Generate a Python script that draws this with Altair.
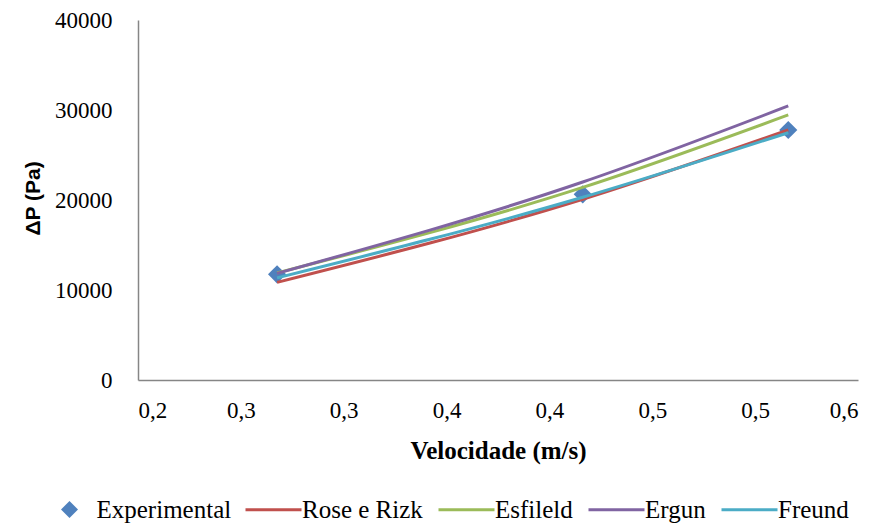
import json
import altair as alt
import pandas as pd

# ---- data ----
velocidade = [0.2676, 0.4162, 0.5161]
experimental = [11744, 20633, 27778]

modelos = ["Rose e Rizk", "Esfileld", "Ergun", "Freund"]
rose_rizk = [10850, 20080, 27780]
esfileld = [11900, 21400, 29450]
ergun = [11850, 22000, 30450]
freund = [11350, 20300, 27480]

cores_modelos = ["#C0504D", "#9BBB59", "#8064A2", "#4BACC6"]
cor_exp = "#4F81BD"

x_tick_values = [0.2, 0.25, 0.3, 0.35, 0.4, 0.45, 0.5, 0.55]
x_tick_labels = ["0,2", "0,3", "0,3", "0,4", "0,4", "0,5", "0,5", "0,6"]
y_tick_values = [0, 10000, 20000, 30000, 40000]

# ---- tables ----
df_exp = pd.DataFrame({"v": velocidade, "dp": experimental, "serie": "Experimental"})
rows = []
for nome, vals in zip(modelos, [rose_rizk, esfileld, ergun, freund]):
    for v, d in zip(velocidade, vals):
        rows.append({"v": v, "dp": d, "modelo": nome})
df_mod = pd.DataFrame(rows)

SERIF = "Liberation Serif"
SANS = "Liberation Sans"
label_expr = f"{json.dumps(x_tick_labels)}[indexof({json.dumps(x_tick_values)}, datum.value)]"

x_enc = alt.X(
    "v:Q",
    scale=alt.Scale(domain=[0.2, 0.55], nice=False, zero=False),
    axis=alt.Axis(
        values=x_tick_values,
        labelExpr=label_expr,
        title="Velocidade (m/s)",
        titleFont=SERIF,
        titleFontSize=25,
        titleFontWeight="bold",
        titleColor="black",
        titleX=360,
        titleY=78,
        titleBaseline="alphabetic",
        labelFont=SERIF,
        labelFontSize=23,
        labelColor="black",
        labelPadding=19,
        ticks=False,
        grid=False,
        domainColor="#868686",
        domainWidth=1.5,
        labelOverlap=False,
    ),
)
y_enc = alt.Y(
    "dp:Q",
    scale=alt.Scale(domain=[0, 40000], nice=False),
    axis=alt.Axis(
        values=y_tick_values,
        format="d",
        title="ΔP (Pa)",
        titleFont=SANS,
        titleFontSize=21,
        titleFontWeight="bold",
        titleColor="black",
        titleAngle=270,
        titleX=-105,
        titleY=178,
        titleAlign="center",
        titleBaseline="middle",
        labelFont=SERIF,
        labelFontSize=23,
        labelColor="black",
        labelPadding=26,
        ticks=False,
        grid=False,
        domainColor="#868686",
        domainWidth=1.5,
        labelOverlap=False,
    ),
)

pontos = alt.Chart(df_exp).mark_point(
    shape="diamond", filled=True, size=330, opacity=1
).encode(
    x=x_enc,
    y=y_enc,
    fill=alt.Fill(
        "serie:N",
        scale=alt.Scale(domain=["Experimental"], range=[cor_exp]),
        legend=alt.Legend(
            title=None,
            orient="none",
            legendX=-81,
            legendY=477,
            direction="horizontal",
            columns=1,
            padding=0,
            symbolType="diamond",
            symbolSize=290,
            symbolOpacity=1,
            labelOffset=14.5,
            labelFont=SERIF,
            labelFontSize=25,
            labelColor="black",
        ),
    ),
)

linhas = alt.Chart(df_mod).mark_line(
    interpolate="monotone", strokeWidth=3
).encode(
    x=x_enc,
    y=y_enc,
    stroke=alt.Stroke(
        "modelo:N",
        sort=modelos,
        scale=alt.Scale(domain=modelos, range=cores_modelos),
        legend=alt.Legend(
            title=None,
            orient="none",
            legendX=105,
            legendY=477,
            direction="horizontal",
            columns=4,
            columnPadding=9,
            padding=0,
            symbolType="M-1,0L4.6,0",
            symbolSize=400,
            symbolStrokeWidth=3,
            labelOffset=34,
            labelFont=SERIF,
            labelFontSize=25,
            labelColor="black",
        ),
    ),
)

chart = alt.layer(pontos, linhas).properties(
    width=720,
    height=360,
    autosize=alt.AutoSizeParams(type="none"),
    padding={"left": 130, "top": 12, "right": 13, "bottom": 148},
    view=alt.ViewBackground(stroke="transparent"),
)

chart.save("out.html", embed_options={"renderer": "svg", "actions": False})
